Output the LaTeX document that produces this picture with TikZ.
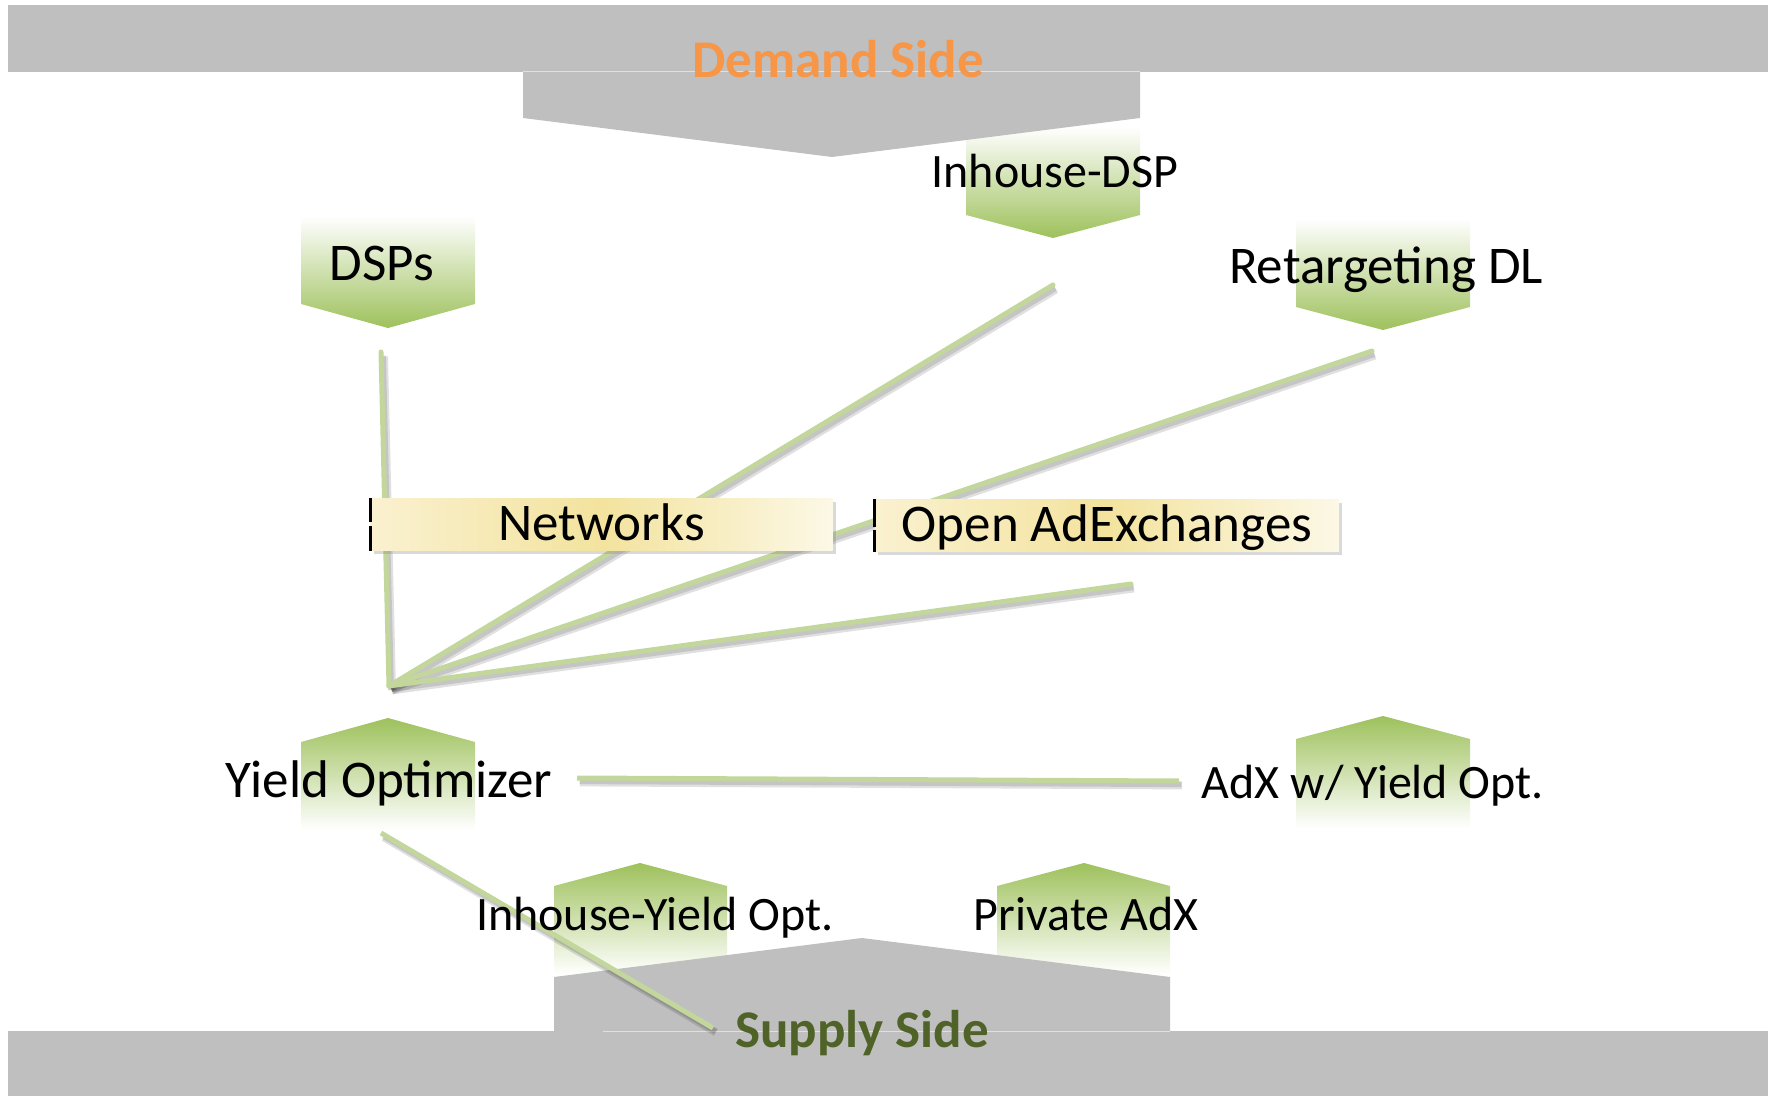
\documentclass[tikz,border=0pt]{standalone}
\usepackage{fontspec}
\setmainfont{Carlito}
\usepackage{tikz}
\usetikzlibrary{shadows,positioning}
\definecolor{barGray}{RGB}{191,191,191}
\definecolor{demandOrange}{RGB}{247,150,70}
\definecolor{supplyGreen}{RGB}{79,98,40}
\definecolor{tagGreen}{RGB}{158,193,92}
\definecolor{lineGreen}{RGB}{195,214,155}
\definecolor{boxPale}{RGB}{250,241,208}
\definecolor{boxYellow}{RGB}{243,227,158}
\definecolor{boxWhite}{RGB}{252,248,230}
\tikzset{
	sidebar/.style={fill=barGray, draw=none},
	sideseam/.style={draw=white!88!black, line width=0.5pt},
	downtag/.style={top color=white, bottom color=tagGreen, draw=none},
	uptag/.style={top color=tagGreen, bottom color=white, draw=none},
	label_big/.style={font=\fontsize{26.5pt}{32pt}\selectfont, inner sep=0pt, anchor=base},
	label_small/.style={font=\fontsize{24pt}{29pt}\selectfont, inner sep=0pt, anchor=base},
	side_label/.style={label_big, font=\fontsize{26.5pt}{32pt}\selectfont\bfseries},
	marketbox/.style={
		minimum width=231pt, minimum height=25pt, inner sep=0pt,
		text height=21pt, text depth=5pt,
		font=\fontsize{26.5pt}{32pt}\selectfont,
		left color=boxPale, right color=boxWhite, middle color=boxYellow,
		drop shadow={shadow xshift=1.5pt, shadow yshift=-2pt, opacity=0.3}
	},
	boxedge/.style={draw=black, line width=1.5pt},
	link/.style={
		draw=lineGreen, line width=2.5pt,
		preaction={draw=black, opacity=0.12, line width=4pt,
			transform canvas={shift={(1.5pt,-2.2pt)}}},
		preaction={draw=black, opacity=0.12, line width=2.5pt,
			transform canvas={shift={(1.2pt,-1.8pt)}}}
	}
}

\begin{document}
\begin{tikzpicture}[x=0.5pt, y=-0.5pt]
	\useasboundingbox (0,0) rectangle (1768,1096);
	% demand side
	\path[downtag] (966,127) -- (1140,127) -- (1140,215) -- (1053,238) -- (966,215) -- cycle;
	\path[sidebar] (8,5) rectangle (1768,72);
	\path[sidebar] (523,72) -- (1140,72) -- (1140,118) -- (832,157) -- (523,118) -- cycle;
	\draw[sideseam] (523,72) -- (1140,72);
	\path[downtag] (301,216) -- (475,216) -- (475,304) -- (388,328) -- (301,304) -- cycle;
	\path[downtag] (1296,219) -- (1470,219) -- (1470,307) -- (1383,330) -- (1296,307) -- cycle;
	% supply side
	\path[uptag] (388,718) -- (475,742) -- (475,830) -- (301,830) -- (301,742) -- cycle;
	\path[uptag] (1383,716) -- (1470,739) -- (1470,828) -- (1296,828) -- (1296,739) -- cycle;
	\path[uptag] (640,863) -- (727,886) -- (727,974) -- (554,974) -- (554,886) -- cycle;
	\path[uptag] (1084,863) -- (1170,886) -- (1170,974) -- (997,974) -- (997,886) -- cycle;
	\path[sidebar] (8,1031) rectangle (1768,1096);
	\path[sidebar] (554,1031) -- (554,977) -- (862,938) -- (1170,977) -- (1170,1031) -- cycle;
	\draw[sideseam] (603,1031) -- (1170,1031);
	% connections
	\coordinate (hub) at (389,686);
	\coordinate (dspEnd) at (381,352);
	\coordinate (ihdspEnd) at (1053,285);
	\coordinate (rtgEnd) at (1372,351);
	\coordinate (oaxEnd) at (1131,584);
	\coordinate (yoRight) at (577,778);
	\coordinate (adxLeft) at (1179,781);
	\coordinate (yoBelow) at (381,833);
	\coordinate (supplyEnd) at (713,1028);
	\draw[link, line cap=round] (hub) -- (dspEnd);
	\draw[link, line cap=round] (hub) -- (ihdspEnd);
	\draw[link, line cap=round] (hub) -- (rtgEnd);
	\draw[link, line cap=round] (hub) -- (oaxEnd);
	\draw[link] (yoRight) -- (adxLeft);
	\draw[link] (yoBelow) -- (supplyEnd);
	% exchanges
	\node[marketbox] (nets) at (601.5,524.5) {Networks};
	\node[marketbox, minimum width=232pt] (oax) at (1107,525.5) {Open AdExchanges};
	\draw[boxedge] (nets.north west) -- ([yshift=1pt]nets.west) ([yshift=-1pt]nets.west) -- (nets.south west);
	\draw[boxedge] (oax.north west) -- ([yshift=-1pt]oax.west) ([yshift=-2.5pt]oax.west) -- (oax.south west);
	% labels
	\node[side_label, text=demandOrange] (demand) at (838,78) {Demand Side};
	\node[side_label, text=supplyGreen] (supply) at (862,1047) {Supply Side};
	\node[label_big] (dsps) at (382,281) {DSPs};
	\node[label_small] (ihdsp) at (1055,188) {Inhouse-DSP};
	\node[label_big] (rtg) at (1386,284) {Retargeting DL};
	\node[label_big] (yo) at (389,797) {Yield Optimizer};
	\node[label_small] (adx) at (1373,798) {AdX w/ Yield Opt.};
	\node[label_small] (ihyo) at (655,930) {Inhouse-Yield Opt.};
	\node[label_small] (padx) at (1086,930) {Private AdX};
\end{tikzpicture}
\end{document}
